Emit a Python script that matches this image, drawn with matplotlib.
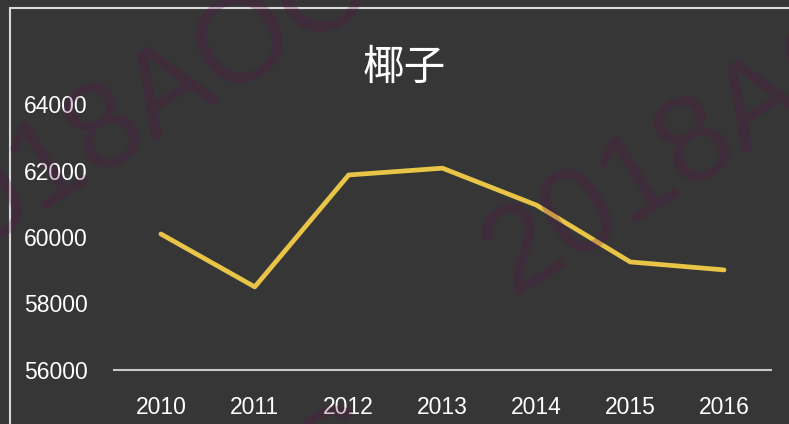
import matplotlib
matplotlib.use("Agg")
import matplotlib.pyplot as plt
from matplotlib.patches import Rectangle

plt.rcParams['font.family'] = ['Liberation Sans', 'Noto Sans CJK SC', 'DejaVu Sans']

title = "椰子"
years = ["2010", "2011", "2012", "2013", "2014", "2015", "2016"]
values = [60090, 58500, 61865, 62070, 60960, 59250, 59010]
yticks = [56000, 58000, 60000, 62000, 64000]
watermark = "2018AOC"

W, H = 789, 424
BG = "#363636"
fig = plt.figure(figsize=(W / 100, H / 100), dpi=100, facecolor=BG)

# border of the chart area (cropped on right and bottom)
fig.patches.append(Rectangle((9.5 / W, -0.1), 1.2, 1 - 8 / H + 0.1, transform=fig.transFigure,
                             fill=False, edgecolor="#d9d9d9", linewidth=1.5, zorder=0))

ax = fig.add_axes([114 / W, 1 - 370 / H, (771 - 114) / W, (370 - 104) / H])
ax.set_facecolor("none")
x = list(range(len(years)))
ax.plot(x, values, color="#E8C547", linewidth=3.4, solid_capstyle="round",
        solid_joinstyle="round", zorder=3)
ax.set_xlim(-0.5, len(years) - 0.5)
ax.set_ylim(yticks[0], yticks[-1])
ax.set_yticks(yticks)
ax.set_yticklabels([str(v) for v in yticks])
ax.set_xticks(x)
ax.set_xticklabels(years)
for s in ["top", "right", "left"]:
    ax.spines[s].set_visible(False)
ax.spines["bottom"].set_color("#c8c8c8")
ax.spines["bottom"].set_linewidth(1.5)
ax.tick_params(axis="both", length=0, colors="white", labelsize=16.5)
ax.tick_params(axis="y", pad=19)
ax.tick_params(axis="x", pad=19)

fig.text(404 / W, 1 - 68 / H, title, color="white", fontsize=30, ha="center", va="center",
         family=["Noto Sans CJK SC", "DejaVu Sans"])

# watermark
for (px, py) in [(-78, 283), (512, 296), (-62, 745)]:
    fig.text(px / W, 1 - py / H, watermark, color="#5a0f4f", alpha=0.24, fontsize=88,
             rotation=32, rotation_mode="anchor", ha="left", va="baseline", zorder=10,
             family=["Liberation Sans"])

fig.savefig("out.png", dpi=100, facecolor=BG)
